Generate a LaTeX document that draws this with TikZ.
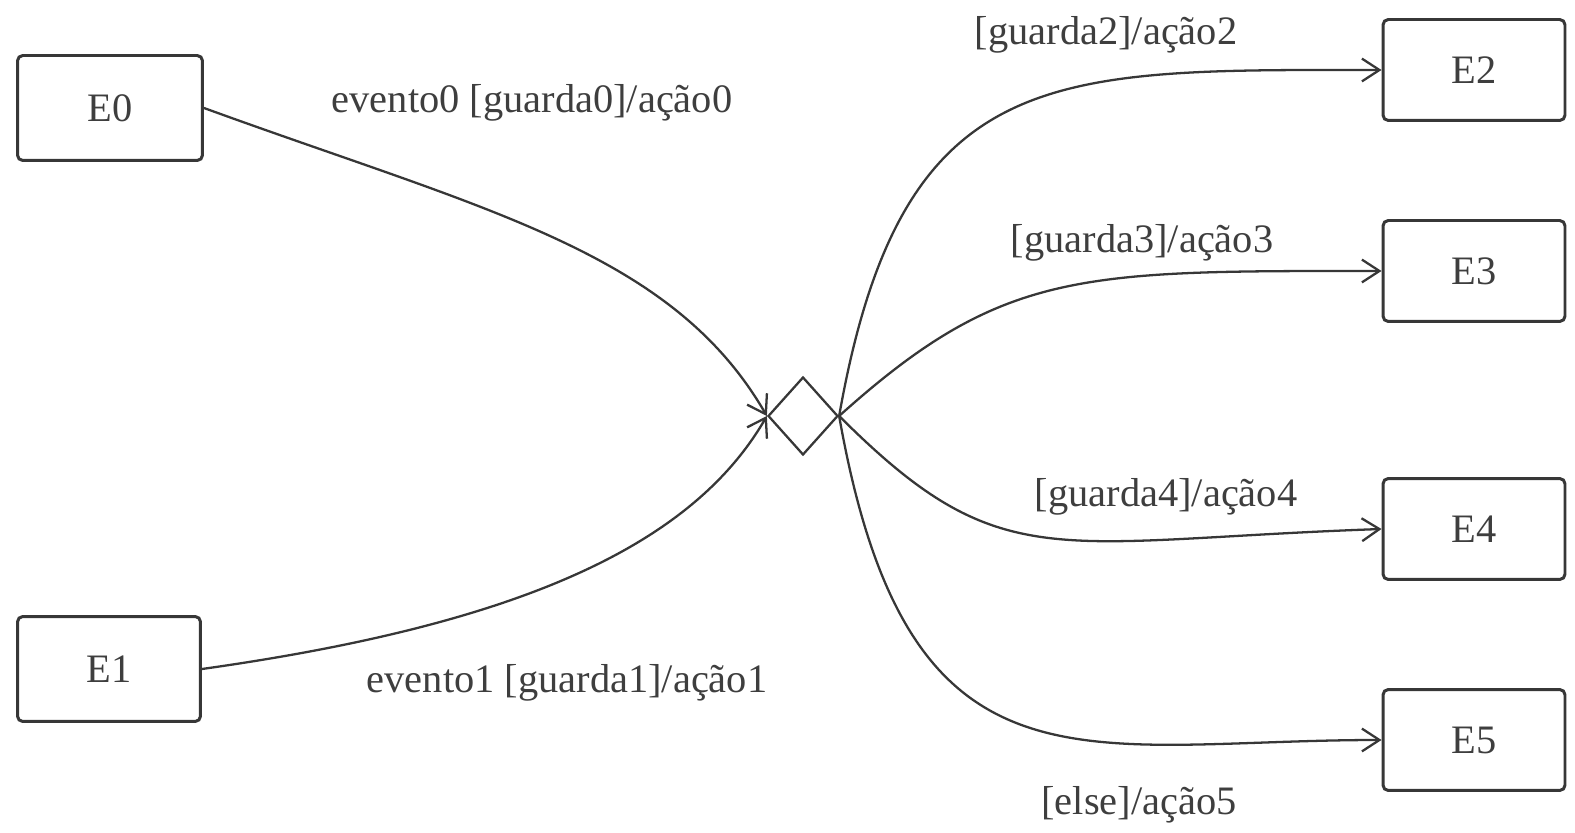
\documentclass[tikz,border=0pt]{standalone}
\usepackage{fontspec}
\setmainfont{Liberation Serif}
\usetikzlibrary{positioning, arrows.meta, shapes.geometric}
\definecolor{InkGray}{RGB}{55,55,55}
\definecolor{TextGray}{RGB}{62,62,62}
\tikzset{
  estado/.style={draw=InkGray, line width=1.7pt, rounded corners=3pt, minimum width=3.64cm,
    minimum height=2.02cm, inner sep=0pt, font=\fontsize{23}{27}\selectfont, text=TextGray},
  escolha/.style={diamond, draw=InkGray, line width=1.3pt, minimum width=1.4cm,
    minimum height=1.56cm, inner sep=0pt},
  trans/.style={-{Straight Barb[length=10pt,width=13pt]}, line width=1.3pt, InkGray},
  rotulo/.style={font=\fontsize{23}{27}\selectfont, text=TextGray, inner sep=1pt},
}
\begin{document}
\begin{tikzpicture}[x=0.02cm, y=0.02cm]
  \useasboundingbox (0,0) rectangle (1575,832);
  % estados
  \node[estado, minimum width=3.7cm, minimum height=2.1cm] (E0) at (110,724) {E0};
  \node[estado, minimum width=3.66cm, minimum height=2.1cm] (E1) at (109,163) {E1};
  \node[estado] (E2) at (1474,762) {E2};
  \node[estado] (E3) at (1474,561) {E3};
  \node[estado] (E4) at (1474,303) {E4};
  \node[estado] (E5) at (1474,92) {E5};
  \node[escolha] (dec) at (803,416) {};
  % transicoes
  \draw[trans] (E0.east) .. controls +(-20:300) and +(120:190) .. (dec.west);
  \draw[trans] (E1.east) .. controls +(8:320) and +(-120:150) .. (dec.west);
  \draw[trans] (dec.east) .. controls +(80:360) and +(180:330) .. (E2.west);
  \draw[trans] (dec.east) .. controls +(42:220) and +(180:300) .. (E3.west);
  \draw[trans] (dec.east) .. controls +(-45:230) and +(-178:330) .. (E4.west);
  \draw[trans] (dec.east) .. controls +(-80:400) and +(180:300) .. (E5.west);
  % rotulos
  \node[rotulo] (l0) at (532,729) {evento0 [guarda0]/ação0};
  \node[rotulo] (l1) at (567,149) {evento1 [guarda1]/ação1};
  \node[rotulo] (l2) at (1106,797) {[guarda2]/ação2};
  \node[rotulo] (l3) at (1142,589) {[guarda3]/ação3};
  \node[rotulo] (l4) at (1166,335) {[guarda4]/ação4};
  \node[rotulo] (l5) at (1139,27) {[else]/ação5};
\end{tikzpicture}
\end{document}
